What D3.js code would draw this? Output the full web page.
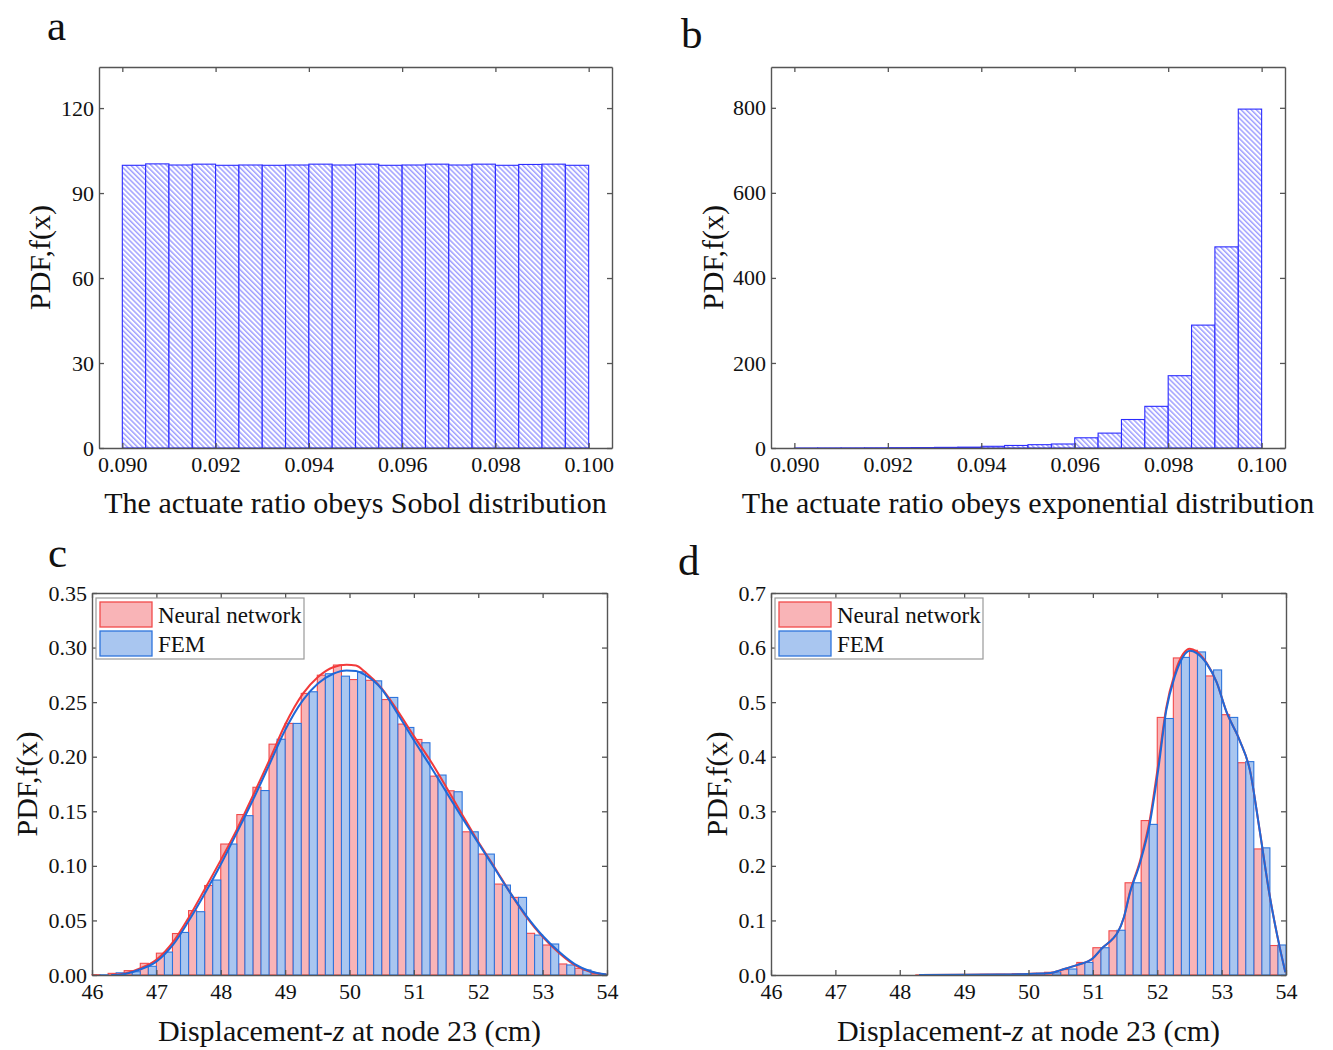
<!DOCTYPE html>
<html>
<head>
<meta charset="utf-8">
<script src="https://cdn.jsdelivr.net/npm/d3@7"></script>
<style>
  body { margin: 0; background: #fff; }
  svg { display: block; }
  text { font-family: "Liberation Serif", "Times New Roman", serif; fill: #111; }
</style>
</head>
<body>
<svg id="chart" width="1333" height="1050"></svg>
<script>
// ---------------- DATA ----------------
// Panel a / b: histogram bins (left edges), bin width 0.0005
const ratioBins = [0.0900,0.0905,0.0910,0.0915,0.0920,0.0925,0.0930,0.0935,0.0940,0.0945,
                   0.0950,0.0955,0.0960,0.0965,0.0970,0.0975,0.0980,0.0985,0.0990,0.0995];
const ratioBinWidth = 0.0005;
const sobolPDF = [99.8,100.3,99.9,100.2,99.8,99.9,99.8,99.9,100.2,99.9,
                  100.2,99.8,99.9,100.2,99.9,100.2,99.8,100.1,100.2,99.8];
const expPDF = [0.1,0.2,0.3,0.5,0.8,1.0,1.5,2,4,6,
                7.8,9.4,24,35,67,98,170,289,473,797];
const ratioTicks = [0.090,0.092,0.094,0.096,0.098,0.100];
const sobolYTicks = [0,30,60,90,120];
const expYTicks = [0,200,400,600,800];

// Panel c / d: displacement bins (left edges), bin width 0.25
const dispBins = [46.0,46.25,46.5,46.75,47.0,47.25,47.5,47.75,48.0,48.25,48.5,48.75,
                  49.0,49.25,49.5,49.75,50.0,50.25,50.5,50.75,51.0,51.25,51.5,51.75,
                  52.0,52.25,52.5,52.75,53.0,53.25,53.5,53.75];
const dispBinWidth = 0.25;
const cNN  = [0.0003,0.0015,0.004,0.0107,0.020,0.038,0.059,0.082,0.120,0.147,0.172,0.2115,
              0.2305,0.258,0.2747,0.284,0.2707,0.270,0.2524,0.2299,0.2158,0.1822,0.1688,0.1312,
              0.1108,0.0833,0.0711,0.0382,0.0275,0.0101,0.0061,0.0015];
const cFEM = [0.0002,0.002,0.003,0.008,0.021,0.039,0.058,0.087,0.120,0.146,0.169,0.216,
              0.2305,0.2595,0.276,0.2738,0.2778,0.2695,0.2543,0.2268,0.2128,0.1832,0.1679,0.1312,
              0.1108,0.0824,0.0711,0.0366,0.0284,0.0092,0.0046,0.0006];
const dNN  = [0,0,0,0,0,0,0,0,0,0.0002,0.0003,0.0003,
              0.0005,0.001,0.001,0.002,0.003,0.005,0.010,0.023,0.050,0.081,0.169,0.283,
              0.472,0.581,0.595,0.548,0.477,0.389,0.231,0.054];
const dFEM = [0,0,0,0,0,0,0,0,0,0.0001,0.0003,0.0002,
              0.0004,0.0008,0.001,0.002,0.003,0.004,0.011,0.023,0.050,0.082,0.169,0.276,
              0.470,0.582,0.592,0.559,0.472,0.391,0.233,0.055];

// Fitted density curves (x, value)
const cCurveNN = [[46.3,0],[46.435,0.0006],[46.745,0.006],[46.994,0.0137],[47.263,0.0305],[47.496,0.052],
  [47.755,0.079],[47.998,0.105],[48.247,0.133],[48.505,0.165],[48.764,0.198],[48.997,0.229],
  [49.28,0.258],[49.51,0.273],[49.747,0.282],[49.955,0.2842],[50.1,0.2835],[50.24,0.2778],[50.5,0.2625],
  [50.74,0.2427],[50.99,0.2198],[51.25,0.197],[51.5,0.1725],[51.74,0.148],[52.0,0.122],
  [52.25,0.099],[52.5,0.075],[52.75,0.053],[53.0,0.035],[53.26,0.0199],[53.5,0.009],
  [53.74,0.003],[53.99,0.0004]];
const cCurveFEM = [[46.3,0],[46.435,0.0003],[46.745,0.005],[46.994,0.012],[47.263,0.028],[47.496,0.049],
  [47.755,0.075],[47.998,0.101],[48.247,0.130],[48.505,0.161],[48.764,0.194],[48.997,0.224],
  [49.28,0.252],[49.51,0.267],[49.747,0.276],[49.955,0.279],[50.1,0.2785],[50.24,0.275],[50.5,0.262],
  [50.74,0.240],[50.99,0.216],[51.25,0.192],[51.5,0.168],[51.74,0.145],[52.0,0.121],
  [52.25,0.098],[52.5,0.075],[52.75,0.054],[53.0,0.036],[53.26,0.021],[53.5,0.010],
  [53.74,0.0035],[53.99,0.0005]];
const dCurveFEM = [[48.3,0],[49.0,0.0005],[49.5,0.001],[50.0,0.002],[50.34,0.0035],[50.5,0.009],
  [50.75,0.018],[51.0,0.0305],[51.15,0.05],[51.315,0.067],[51.39,0.079],[51.48,0.105],
  [51.575,0.150],[51.73,0.2045],[51.885,0.278],[52.014,0.375],[52.14,0.485],[52.27,0.546],
  [52.40,0.583],[52.506,0.594],[52.61,0.590],[52.766,0.571],[52.92,0.537],[53.076,0.482],
  [53.28,0.430],[53.44,0.375],[53.59,0.266],[53.75,0.143],[53.90,0.052],[53.99,0.005]];
const dCurveNN = [[48.3,0],[49.0,0.0005],[49.5,0.001],[50.0,0.002],[50.34,0.0035],[50.5,0.009],
  [50.75,0.018],[51.0,0.0305],[51.15,0.05],[51.315,0.067],[51.39,0.079],[51.48,0.105],
  [51.575,0.152],[51.73,0.208],[51.885,0.285],[52.014,0.385],[52.14,0.490],[52.27,0.552],
  [52.40,0.588],[52.506,0.598],[52.61,0.593],[52.766,0.572],[52.92,0.537],[53.076,0.482],
  [53.28,0.430],[53.44,0.375],[53.59,0.266],[53.75,0.143],[53.90,0.052],[53.99,0.005]];
const dispTicks = [46,47,48,49,50,51,52,53,54];
const cYTicks = [0,0.05,0.10,0.15,0.20,0.25,0.30,0.35];
const dYTicks = [0,0.1,0.2,0.3,0.4,0.5,0.6,0.7];
const legendLabels = ["Neural network","FEM"];

// ---------------- DRAW ----------------
const svg = d3.select("#chart");
const defs = svg.append("defs");
const pat = defs.append("pattern").attr("id","hatch").attr("patternUnits","userSpaceOnUse")
  .attr("width",3.6).attr("height",3.6).attr("patternTransform","rotate(-45)");
pat.append("rect").attr("width",3.6).attr("height",3.6).attr("fill","#fff");
pat.append("line").attr("x1",0.8).attr("y1",0).attr("x2",0.8).attr("y2",3.6)
  .attr("stroke","#6f6fff").attr("stroke-width",1);

const AXIS = "#555";
const TICKFONT = 22;
const TITLEFONT = 30;

function frameAxes(g, x, y, f, xt, yt, xfmt, yfmt) {
  const ax = (sel) => { sel.selectAll("path.domain").attr("stroke",AXIS).attr("stroke-width",1.4);
    sel.selectAll(".tick line").attr("stroke",AXIS).attr("stroke-width",1.3);
    sel.selectAll("text").attr("font-size",TICKFONT).attr("font-family","Liberation Serif").attr("fill","#111"); };
  g.append("g").attr("transform",`translate(0,${f.b})`)
    .call(d3.axisBottom(x).tickValues(xt).tickFormat(xfmt).tickSize(-5).tickSizeOuter(0).tickPadding(8)).call(ax);
  g.append("g").attr("transform",`translate(0,${f.t})`)
    .call(d3.axisTop(x).tickValues(xt).tickFormat("").tickSize(-5).tickSizeOuter(0)).call(ax);
  g.append("g").attr("transform",`translate(${f.l},0)`)
    .call(d3.axisLeft(y).tickValues(yt).tickFormat(yfmt).tickSize(-5).tickSizeOuter(0).tickPadding(5)).call(ax);
  g.append("g").attr("transform",`translate(${f.r},0)`)
    .call(d3.axisRight(y).tickValues(yt).tickFormat("").tickSize(-5).tickSizeOuter(0)).call(ax);
}

function labels(g, f, xTitle, yX, letter, lx, ly, titleY, italicZ) {
  const cx = (f.l + f.r) / 2;
  const t = g.append("text").attr("x", cx).attr("y", titleY).attr("text-anchor","middle")
    .attr("font-size",TITLEFONT);
  if (italicZ) {
    t.append("tspan").text("Displacement-");
    t.append("tspan").attr("font-style","italic").text("z");
    t.append("tspan").text(" at node 23 (cm)");
  } else t.text(xTitle);
  g.append("text").attr("transform",`translate(${yX},${(f.t+f.b)/2}) rotate(-90)`)
    .attr("text-anchor","middle").attr("font-size",TITLEFONT).text("PDF,f(x)");
  g.append("text").attr("x",lx).attr("y",ly).attr("font-size",43).text(letter);
}

function hatchPanel(f, values, yDomain, yTicks, title, letter, lx, ly, yLabX) {
  const g = svg.append("g");
  const x = d3.scaleLinear().domain([0.0895, 0.1005]).range([f.l, f.r]);
  const y = d3.scaleLinear().domain(yDomain).range([f.b, f.t]);
  g.append("g").selectAll("rect").data(ratioBins).join("rect")
    .attr("x", d => x(d)).attr("width", d => x(d + ratioBinWidth) - x(d))
    .attr("y", (d,i) => y(values[i])).attr("height", (d,i) => y(0) - y(values[i]))
    .attr("fill","url(#hatch)").attr("stroke","#2b2bff").attr("stroke-width",1.1);
  frameAxes(g, x, y, f, ratioTicks, yTicks, d3.format(".3f"), d3.format("d"));
  labels(g, f, title, yLabX, letter, lx, ly, 513, false);
}

const RED_FILL = "#f9b4b7", RED_STROKE = "#f24a4a";
const BLUE_FILL = "#a9c6f0", BLUE_STROKE = "#2d74dc";

function dispPanel(f, nn, fem, curveNN, curveFEM, yDomain, yTicks, yfmt, letter, lx, ly, yLabX) {
  const g = svg.append("g");
  const x = d3.scaleLinear().domain([46, 54]).range([f.l, f.r]);
  const y = d3.scaleLinear().domain(yDomain).range([f.b, f.t]);
  const half = dispBinWidth / 2;
  g.append("g").selectAll("rect").data(dispBins).join("rect")
    .attr("x", d => x(d)).attr("width", d => x(d + half) - x(d))
    .attr("y", (d,i) => y(nn[i])).attr("height", (d,i) => y(0) - y(nn[i]))
    .attr("fill",RED_FILL).attr("stroke",RED_STROKE).attr("stroke-width",1.1);
  g.append("g").selectAll("rect").data(dispBins).join("rect")
    .attr("x", d => x(d + half)).attr("width", d => x(d + dispBinWidth) - x(d + half))
    .attr("y", (d,i) => y(fem[i])).attr("height", (d,i) => y(0) - y(fem[i]))
    .attr("fill",BLUE_FILL).attr("stroke",BLUE_STROKE).attr("stroke-width",1.1);
  const line = d3.line().x(d => x(d[0])).y(d => y(d[1])).curve(d3.curveMonotoneX);
  g.append("path").attr("d", line(curveNN)).attr("fill","none").attr("stroke","#f23a3a").attr("stroke-width",2);
  g.append("path").attr("d", line(curveFEM)).attr("fill","none").attr("stroke","#1f68d8").attr("stroke-width",2);
  frameAxes(g, x, y, f, dispTicks, yTicks, d3.format("d"), yfmt);
  // legend
  const lg = g.append("g").attr("transform",`translate(${f.l+4},${f.t+5})`);
  lg.append("rect").attr("width",208).attr("height",61).attr("fill","#fff").attr("stroke","#9a9a9a").attr("stroke-width",1.2);
  const fills = [RED_FILL, BLUE_FILL], strokes = [RED_STROKE, BLUE_STROKE];
  legendLabels.forEach((lab, i) => {
    lg.append("rect").attr("x",4).attr("y",4 + i*29).attr("width",52).attr("height",25)
      .attr("fill",fills[i]).attr("stroke",strokes[i]).attr("stroke-width",1.3);
    lg.append("text").attr("x",62).attr("y",25 + i*29).attr("font-size",23).text(lab);
  });
  labels(g, f, "", yLabX, letter, lx, ly, 1041, true);
}

hatchPanel({l:99, r:612, t:67, b:448}, sobolPDF, [0, 134.5], sobolYTicks,
  "The actuate ratio obeys Sobol distribution", "a", 47, 40, 50);
hatchPanel({l:771, r:1285, t:67, b:448}, expPDF, [0, 896], expYTicks,
  "The actuate ratio obeys exponential distribution", "b", 681, 48, 723);
dispPanel({l:92, r:607, t:593, b:975}, cNN, cFEM, cCurveNN, cCurveFEM, [0, 0.35], cYTicks,
  d3.format(".2f"), "c", 48, 567, 37);
dispPanel({l:771, r:1286, t:593, b:975}, dNN, dFEM, dCurveNN, dCurveFEM, [0, 0.7], dYTicks,
  d3.format(".1f"), "d", 678, 575, 727);
</script>
</body>
</html>
